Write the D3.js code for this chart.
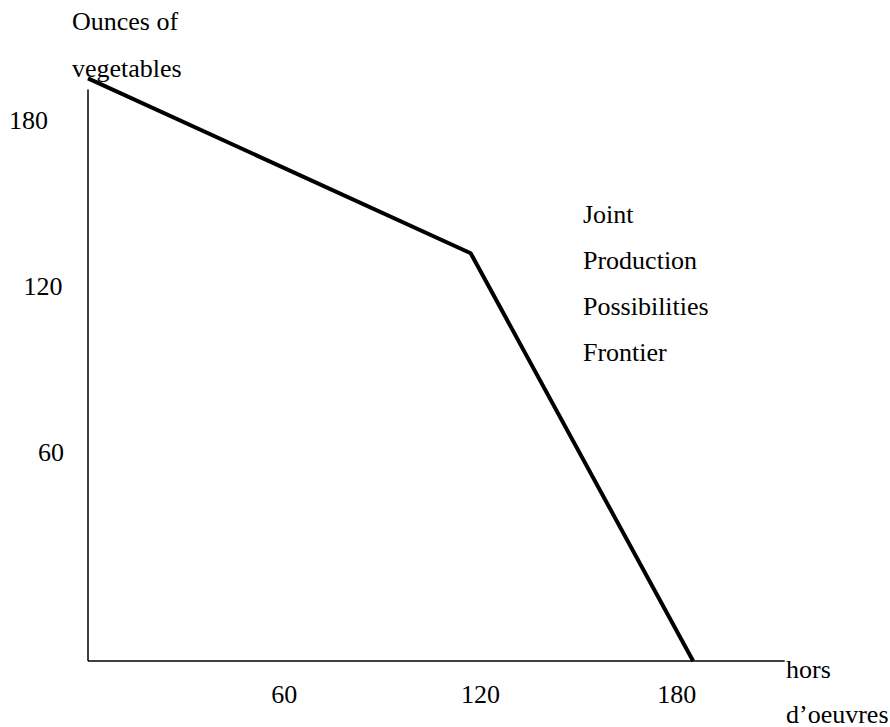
<!DOCTYPE html>
<html>
<head>
<meta charset="utf-8">
<script src="https://cdn.jsdelivr.net/npm/d3@7"></script>
</head>
<body style="margin:0">
<svg id="chart"></svg>
<script>
// Data (units: hors d'oeuvres, ounces of vegetables)
const frontierX = [0, 117, 185];
const frontierY = [195, 132, -15];
const xTicks = [60, 120, 180];
const yTicks = [180, 120, 60];
const frontierLabel = ["Joint", "Production", "Possibilities", "Frontier"];
const yTitle = ["Ounces of", "vegetables"];
const xTitle = ["hors", "d\u2019oeuvres"];

const width = 890;
const height = 727;
const fontSize = 26;

const svg = d3.select("#chart")
  .attr("width", width)
  .attr("height", height);

// Scales
const x = d3.scaleLinear().domain([0, 213]).range([88, 784.7]);
const y = d3.scaleLinear().domain([-15, 191]).range([661, 89.5]);
// the y labels in the original are staggered, not right aligned
const yLabelLeft = d3.scaleLinear().domain([60, 180]).range([38, 9]);

// Axes (plain lines, no tick marks)
svg.append("line")
  .attr("x1", x(0)).attr("x2", x(0))
  .attr("y1", y(191)).attr("y2", y(-15))
  .attr("stroke", "#000").attr("stroke-width", 1.5);

svg.append("line")
  .attr("x1", x(0)).attr("x2", x(213))
  .attr("y1", y(-15)).attr("y2", y(-15))
  .attr("stroke", "#000").attr("stroke-width", 1.5);

// Frontier
const points = frontierX.map((d, i) => [d, frontierY[i]]);
const line = d3.line().x(d => x(d[0])).y(d => y(d[1]));

svg.append("path")
  .datum(points)
  .attr("d", line)
  .attr("fill", "none")
  .attr("stroke", "#000")
  .attr("stroke-width", 4)
  .attr("stroke-linejoin", "miter");

function addText(data, xPos, yPos, anchor) {
  svg.append("g")
    .selectAll("text")
    .data(data)
    .enter()
    .append("text")
    .attr("x", xPos)
    .attr("y", yPos)
    .style("text-anchor", anchor)
    .style("font-family", "Liberation Serif")
    .style("font-size", fontSize + "px")
    .text(d => d);
}

// Tick labels
addText(xTicks, d => x(d), 703, "middle");
addText(yTicks, d => yLabelLeft(d), d => y(d) + 8.5, "start");

// Axis titles
addText(yTitle, 72, (d, i) => 30 + i * 47, "start");
addText(xTitle, 786, (d, i) => 678 + i * 45, "start");

// Frontier label
addText(frontierLabel, 583, (d, i) => 222.5 + i * 46.3, "start");
</script>
</body>
</html>
